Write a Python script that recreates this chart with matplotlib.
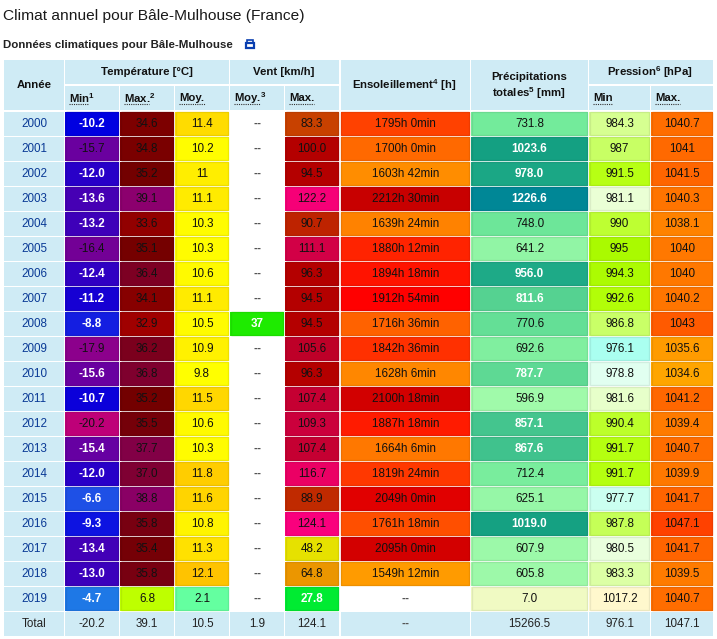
import numpy as np
import matplotlib
matplotlib.use('Agg')
from matplotlib import pyplot as plt
from matplotlib.patches import Rectangle

plt.rcParams['font.family'] = ['Liberation Sans', 'DejaVu Sans']
plt.rcParams['mathtext.fontset'] = 'custom'
plt.rcParams['mathtext.rm'] = 'Liberation Sans'
plt.rcParams['mathtext.bf'] = 'Liberation Sans:bold'
plt.rcParams['mathtext.default'] = 'regular'

years = ['2000', '2001', '2002', '2003', '2004', '2005', '2006', '2007', '2008', '2009',
         '2010', '2011', '2012', '2013', '2014', '2015', '2016', '2017', '2018', '2019']

temp_min = ['-10.2', '-15.7', '-12.0', '-13.6', '-13.2', '-16.4', '-12.4', '-11.2', '-8.8', '-17.9',
            '-15.6', '-10.7', '-20.2', '-15.4', '-12.0', '-6.6', '-9.3', '-13.4', '-13.0', '-4.7']
temp_max = ['34.6', '34.8', '35.2', '39.1', '33.6', '35.1', '36.4', '34.1', '32.9', '36.2',
            '36.8', '35.2', '35.5', '37.7', '37.0', '38.8', '35.8', '35.4', '35.8', '6.8']
temp_moy = ['11.4', '10.2', '11', '11.1', '10.3', '10.3', '10.6', '11.1', '10.5', '10.9',
            '9.8', '11.5', '10.6', '10.3', '11.8', '11.6', '10.8', '11.3', '12.1', '2.1']
vent_moy = ['--'] * 8 + ['37'] + ['--'] * 11
vent_max = ['83.3', '100.0', '94.5', '122.2', '90.7', '111.1', '96.3', '94.5', '94.5', '105.6',
            '96.3', '107.4', '109.3', '107.4', '116.7', '88.9', '124.1', '48.2', '64.8', '27.8']
soleil = ['1795h 0min', '1700h 0min', '1603h 42min', '2212h 30min', '1639h 24min', '1880h 12min',
          '1894h 18min', '1912h 54min', '1716h 36min', '1842h 36min', '1628h 6min', '2100h 18min',
          '1887h 18min', '1664h 6min', '1819h 24min', '2049h 0min', '1761h 18min', '2095h 0min',
          '1549h 12min', '--']
precip = ['731.8', '1023.6', '978.0', '1226.6', '748.0', '641.2', '956.0', '811.6', '770.6', '692.6',
          '787.7', '596.9', '857.1', '867.6', '712.4', '625.1', '1019.0', '607.9', '605.8', '7.0']
press_min = ['984.3', '987', '991.5', '981.1', '990', '995', '994.3', '992.6', '986.8', '976.1',
             '978.8', '981.6', '990.4', '991.7', '991.7', '977.7', '987.8', '980.5', '983.3', '1017.2']
press_max = ['1040.7', '1041', '1041.5', '1040.3', '1038.1', '1040', '1040', '1040.2', '1043', '1035.6',
             '1034.6', '1041.2', '1039.4', '1040.7', '1039.9', '1041.7', '1047.1', '1041.7', '1039.5', '1040.7']
totals = ['-20.2', '39.1', '10.5', '1.9', '124.1', '--', '15266.5', '976.1', '1047.1']

# echelles de couleur (valeur, rgb)
scale_tmin = [(-20.2, (190, 0, 120)), (-17.9, (140, 0, 140)), (-16.4, (115, 0, 150)), (-15.6, (105, 0, 160)),
              (-13.6, (70, 0, 180)), (-12.0, (40, 0, 200)), (-10.2, (0, 0, 225)), (-8.8, (20, 30, 225)),
              (-6.6, (30, 80, 230)), (-4.7, (30, 120, 230))]
scale_tmax = [(6.8, (190, 255, 0)), (32.9, (160, 0, 0)), (34.6, (125, 0, 0)), (35.2, (115, 0, 0)),
              (36.4, (125, 0, 35)), (37.7, (130, 0, 70)), (39.1, (140, 0, 110))]
scale_tmoy = [(2.1, (100, 255, 160)), (9.8, (255, 255, 0)), (10.6, (255, 250, 0)), (11.1, (255, 235, 0)),
              (11.5, (255, 215, 0)), (12.1, (255, 195, 0))]
scale_vent = [(27.8, (0, 235, 50)), (37, (30, 235, 0)), (48.2, (230, 225, 0)), (64.8, (235, 150, 0)),
              (83.3, (200, 65, 0)), (90.7, (190, 35, 0)), (94.5, (180, 0, 0)), (100, (180, 0, 0)),
              (105.6, (190, 0, 40)), (111.1, (210, 0, 70)), (116.7, (235, 0, 100)), (124.1, (250, 0, 125))]
scale_sol = [(1549, (255, 155, 0)), (1628, (255, 135, 0)), (1700, (255, 105, 0)), (1795, (255, 65, 0)),
             (1880, (255, 35, 0)), (1912, (255, 0, 0)), (2049, (225, 0, 0)), (2100, (210, 0, 0)), (2212, (200, 0, 0))]
scale_precip = [(7, (240, 250, 195)), (596, (160, 250, 170)), (731, (115, 235, 155)), (811, (85, 210, 145)),
                (956, (30, 170, 135)), (1023, (20, 160, 130)), (1226, (0, 135, 150))]
scale_pmin = [(976.1, (170, 255, 240)), (978.8, (225, 255, 240)), (981, (235, 255, 215)), (984, (215, 255, 150)),
              (987, (200, 255, 100)), (990, (190, 255, 50)), (992, (180, 255, 10)), (995, (170, 250, 0)),
              (1017, (255, 248, 205))]
scale_pmax = [(1034.6, (255, 165, 0)), (1038, (255, 130, 0)), (1040, (255, 120, 0)), (1041, (255, 105, 0)),
              (1043, (255, 90, 0)), (1047.1, (255, 65, 0))]

# valeurs ecrites en blanc dans la colonne des minimales et du vent
dark_tmin = ['-15.7', '-16.4', '-17.9', '-20.2']
white_vent = ['37', '27.8']

HEADER = '#cfebf5'
INK = '#111111'
YEAR = '#0a3a96'


def pick(value, scale):
    xs = [s[0] for s in scale]
    rgb = [np.interp(value, xs, [s[1][k] for s in scale]) / 255 for k in range(3)]
    return tuple(rgb)


def hours(label):
    h, m = label.split('h ')
    return int(h) + int(m.replace('min', '')) / 60


fig = plt.figure(figsize=(7.17, 6.39), dpi=100)
ax = fig.add_axes([0, 0, 1, 1])
ax.set_xlim(0, 717)
ax.set_ylim(639, 0)
ax.axis('off')

col_edges = [(4, 64), (65, 119), (120, 174), (175, 229), (230, 284), (285, 339), (340.5, 470), (471, 588), (589, 650), (651, 713)]
row_top = 111.7
row_h = 25.0
cell_h = 24.2
FS = 8.4
HEAD_FS = 8.2


def cell(x0, x1, y0, y1, color, rim=None):
    ax.add_patch(Rectangle((x0, y0), x1 - x0, y1 - y0, facecolor=color, edgecolor='none'))
    # petit liseré plus sombre a l'interieur de la case
    if rim is not None:
        ax.add_patch(Rectangle((x0 + 0.7, y0 + 0.7), x1 - x0 - 1.4, y1 - y0 - 1.4, facecolor='none',
                               edgecolor=rim, lw=0.9))


def label(x, y, s, color=INK, weight='normal', size=FS):
    ax.text(x, y, s, ha='center', va='center', color=color, fontweight=weight, fontsize=size)


def sub_header(col, s, plain):
    x0, x1 = col_edges[col]
    ax.text(x0 + 4, 98, s, ha='left', va='center', color=INK, fontweight='bold', fontsize=HEAD_FS)
    ax.plot([x0 + 4, x0 + 4 + plain], [104, 104], color='#333333', lw=0.8, ls=(0, (1, 1)))


# titres
ax.text(3, 16, 'Climat annuel pour Bâle-Mulhouse (France)', ha='left', va='center', fontsize=11.15, color='#1a1a1a')
ax.text(3, 44.5, 'Données climatiques pour Bâle-Mulhouse', ha='left', va='center', fontsize=8.25,
        fontweight='bold', color='#222222')

# icone imprimante
ax.add_patch(Rectangle((245.5, 43), 8.5, 4.5, facecolor='none', edgecolor='#0a3fb0', lw=1.6))
ax.add_patch(Rectangle((247, 39.8), 5.5, 3.2, facecolor='none', edgecolor='#0a3fb0', lw=1.2))

# en-tetes
cell(4, 64, 60, 110, HEADER)
cell(65, 229, 60, 83.5, HEADER)
cell(230, 339, 60, 83.5, HEADER)
cell(340.5, 470, 60, 110, HEADER)
cell(471, 588, 60, 110, HEADER)
cell(589, 713, 60, 83.5, HEADER)
for c in [1, 2, 3, 4, 5, 8, 9]:
    cell(col_edges[c][0], col_edges[c][1], 85.5, 110, HEADER)

label(34, 85, 'Année', weight='bold', size=HEAD_FS)
label(146.5, 72, 'Température [°C]', weight='bold', size=HEAD_FS)
label(284, 72, 'Vent [km/h]', weight='bold', size=HEAD_FS)
label(404.5, 85, r'Ensoleillement$^{\mathbf{4}}$ [h]', weight='bold', size=HEAD_FS)
label(529, 77, 'Précipitations', weight='bold', size=HEAD_FS)
label(529, 93, r'totales$^{\mathbf{5}}$ [mm]', weight='bold', size=HEAD_FS)
label(650, 72, r'Pression$^{\mathbf{6}}$ [hPa]', weight='bold', size=HEAD_FS)

sub_header(1, r'Min$^{\mathbf{1}}$', 20)
sub_header(2, r'Max.$^{\mathbf{2}}$', 25)
sub_header(3, 'Moy.', 26)
sub_header(4, r'Moy.$^{\mathbf{3}}$', 26)
sub_header(5, 'Max.', 25)
sub_header(8, 'Min', 20)
sub_header(9, 'Max.', 25)

columns = [temp_min, temp_max, temp_moy, vent_moy, vent_max, soleil, precip, press_min, press_max]
scales = [scale_tmin, scale_tmax, scale_tmoy, scale_vent, scale_vent, scale_sol, scale_precip, scale_pmin, scale_pmax]

# lignes de donnees
for i, year in enumerate(years):
    y0 = row_top + i * row_h
    y1 = y0 + cell_h
    ym = (y0 + y1) / 2
    cell(col_edges[0][0], col_edges[0][1], y0, y1, HEADER)
    label(sum(col_edges[0]) / 2, ym, year, color=YEAR)
    for c, (values, scale) in enumerate(zip(columns, scales)):
        x0, x1 = col_edges[c + 1]
        s = values[i]
        xm = (x0 + x1) / 2
        if s == '--':
            label(xm, ym, s, color='#555555', weight='bold')
            continue
        v = hours(s) if values is soleil else float(s)
        color = pick(v, scale)
        cell(x0, x1, y0, y1, color, rim=tuple(k * 0.93 for k in color))
        white = False
        if values is temp_min:
            white = s not in dark_tmin
        elif values is vent_moy or values is vent_max:
            white = s in white_vent
        elif values is precip:
            white = v >= 780
        if white:
            label(xm, ym, s, color='white', weight='bold')
        else:
            label(xm, ym, s)

# ligne du total
y0 = row_top + 20 * row_h
ym = y0 + cell_h / 2
cell(col_edges[0][0], col_edges[0][1], y0, y0 + cell_h, HEADER)
label(sum(col_edges[0]) / 2, ym, 'Total', color='#222222')
for c, s in enumerate(totals):
    x0, x1 = col_edges[c + 1]
    cell(x0, x1, y0, y0 + cell_h, HEADER)
    if s == '--':
        label((x0 + x1) / 2, ym, s, color='#555555', weight='bold')
    else:
        label((x0 + x1) / 2, ym, s, color='#222222')

fig.savefig('out.png', dpi=100)
